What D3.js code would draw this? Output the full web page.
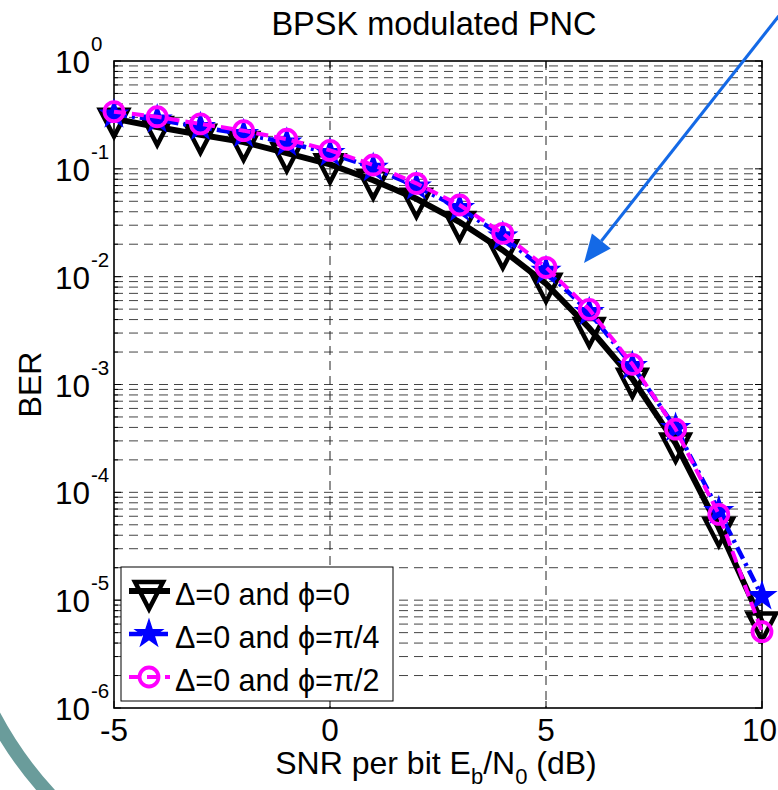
<!DOCTYPE html>
<html>
<head>
<meta charset="utf-8">
<script src="https://cdn.jsdelivr.net/npm/d3@7"></script>
<style>
  body { margin: 0; background: #fff; }
  text { font-family: Arial, "Liberation Sans", Helvetica, sans-serif; fill: #000; }
</style>
</head>
<body>
<svg id="screen"></svg>
<script>
//
// BER curves of BPSK modulated PNC for three phase offsets
//

// ---------------- data ----------------
let snrDb = [-5, -4, -3, -2, -1, 0, 1, 2, 3, 4, 5, 6, 7, 8, 9, 10]
let berPhi0 = [0.292, 0.244, 0.207, 0.177, 0.140, 0.110, 0.0783, 0.0528, 0.0321, 0.0176,
               0.0086, 0.00334, 0.00113, 2.84e-4, 4.7e-5, 6.2e-6]
let berPhiPi4 = [0.319, 0.287, 0.244, 0.210, 0.175, 0.140, 0.102, 0.0686, 0.0433, 0.0236,
                 0.0113, 0.0047, 0.00148, 3.95e-4, 6.7e-5, 1.09e-5]
let berPhiPi2 = [0.339, 0.304, 0.261, 0.226, 0.188, 0.1485, 0.1085, 0.0734, 0.0462, 0.0252,
                 0.0122, 0.00498, 0.00154, 3.85e-4, 6.25e-5, 5.1e-6]
let seriesNames = ["Δ=0 and ϕ=0", "Δ=0 and ϕ=π/4", "Δ=0 and ϕ=π/2"]
let xTicks = [-5, 0, 5, 10]
let xGrid = [0, 5]
let yExponents = [0, -1, -2, -3, -4, -5, -6]
let minorMultipliers = [2, 3, 4, 5, 6, 7, 8, 9]
// annotation arrow points at (snr, ber)
let arrowTip = [5.88, 0.0134]

// ---------------- frame ----------------
let svg = {width: 778, height: 790}
let plot = {left: 114, right: 762, top: 61, bottom: 708}

let frame = d3.select('#screen')
  .attr('width', svg.width)
  .attr('height', svg.height)

let x = d3.scaleLinear().domain([-5, 10]).range([plot.left, plot.right])
let y = d3.scaleLog().domain([1e-6, 1]).range([plot.bottom, plot.top])

// slide decoration: teal arc lower left
frame.append('path')
  .attr('d', 'M -10 708.5 A 375 375 0 0 0 64.8 810')
  .attr('fill', 'none')
  .attr('stroke', '#6a9c9b')
  .attr('stroke-width', 14)

// ---------------- grid ----------------
let grid = frame.append('g').attr('id', 'grid')
let minorValues = []
yExponents.slice(1).forEach(e => minorMultipliers.forEach(m => minorValues.push(m * Math.pow(10, e))))
let majorValues = yExponents.slice(1, -1).map(e => Math.pow(10, e))

grid.selectAll('.hgrid')
  .data(minorValues.concat(majorValues))
  .enter().append('line')
  .attr('x1', plot.left).attr('x2', plot.right)
  .attr('y1', d => y(d)).attr('y2', d => y(d))
  .attr('stroke', '#444').attr('stroke-width', 1)
  .attr('stroke-dasharray', '9,6')

grid.selectAll('.vgrid')
  .data(xGrid)
  .enter().append('line')
  .attr('x1', d => x(d)).attr('x2', d => x(d))
  .attr('y1', plot.top).attr('y2', plot.bottom)
  .attr('stroke', '#222').attr('stroke-width', 1)
  .attr('stroke-dasharray', '9,6')

// ---------------- axes box + ticks ----------------
let axes = frame.append('g').attr('id', 'axes')
axes.append('rect')
  .attr('x', plot.left).attr('y', plot.top)
  .attr('width', plot.right - plot.left).attr('height', plot.bottom - plot.top)
  .attr('fill', 'none').attr('stroke', '#000').attr('stroke-width', 1.6)

let yTickList = yExponents.map(e => ({v: Math.pow(10, e), len: 7}))
  .concat(minorValues.map(v => ({v: v, len: 4})))
yTickList.forEach(t => {
  axes.append('line').attr('x1', plot.left).attr('x2', plot.left + t.len)
    .attr('y1', y(t.v)).attr('y2', y(t.v)).attr('stroke', '#000')
  axes.append('line').attr('x1', plot.right).attr('x2', plot.right - t.len)
    .attr('y1', y(t.v)).attr('y2', y(t.v)).attr('stroke', '#000')
})
xTicks.forEach(t => {
  axes.append('line').attr('x1', x(t)).attr('x2', x(t))
    .attr('y1', plot.bottom).attr('y2', plot.bottom - 7).attr('stroke', '#000')
  axes.append('line').attr('x1', x(t)).attr('x2', x(t))
    .attr('y1', plot.top).attr('y2', plot.top + 7).attr('stroke', '#000')
})

// tick labels 10^e
yExponents.forEach(e => {
  let yy = y(Math.pow(10, e))
  axes.append('text')
    .attr('x', 90).attr('y', yy + 12)
    .attr('text-anchor', 'end')
    .attr('font-size', 31.5)
    .text('10')
  axes.append('text')
    .attr('x', 91).attr('y', yy - 10)
    .attr('font-size', 20.5)
    .text(e == 0 ? '0' : '-' + Math.abs(e))
})
xTicks.forEach((t, i) => {
  // last label sits against the right edge of the page
  let last = i == xTicks.length - 1
  axes.append('text')
    .attr('x', last ? svg.width - 1 : x(t)).attr('y', 741)
    .attr('text-anchor', last ? 'end' : 'middle')
    .attr('font-size', 31.5)
    .text(t)
})

// axis titles
let xlabel = frame.append('text')
  .attr('x', (plot.left + plot.right) / 2 - 2).attr('y', 774)
  .attr('text-anchor', 'middle')
  .attr('font-size', 32)
xlabel.append('tspan').text('SNR per bit E')
xlabel.append('tspan').attr('font-size', 22).attr('dy', 10).text('b')
xlabel.append('tspan').attr('dy', -10).text('/N')
xlabel.append('tspan').attr('font-size', 22).attr('dy', 10).text('0')
xlabel.append('tspan').attr('dy', -10).text(' (dB)')

frame.append('text')
  .attr('transform', 'translate(41,' + (plot.top + plot.bottom) / 2 + ') rotate(-90)')
  .attr('text-anchor', 'middle')
  .attr('font-size', 32)
  .text('BER')

frame.append('text')
  .attr('x', 434).attr('y', 35)
  .attr('text-anchor', 'middle')
  .attr('font-size', 32.5)
  .text('BPSK modulated PNC')

// ---------------- series ----------------
let triPath = 'M -14 -9 L 14 -9 L 0 18 Z'
let starPath = (function () {
  let pts = []
  for (let i = 0; i < 10; i++) {
    let r = i % 2 == 0 ? 14 : 5.4
    let a = -Math.PI / 2 + i * Math.PI / 5
    pts.push([r * Math.cos(a), r * Math.sin(a)])
  }
  return 'M' + pts.map(p => p[0].toFixed(2) + ',' + p[1].toFixed(2)).join('L') + 'Z'
})()

let styles = [
  {ber: berPhi0, color: '#000', width: 6, dash: null},
  {ber: berPhiPi4, color: '#0000ff', width: 4.5, dash: '13,5,3,5'},
  {ber: berPhiPi2, color: '#ff00ff', width: 4, dash: '12,6'}
]

function drawMarker(g, i, cx, cy) {
  let s = styles[i]
  if (i == 0) {
    g.append('path').attr('d', triPath)
      .attr('transform', 'translate(' + cx + ',' + cy + ')')
      .attr('fill', 'none').attr('stroke', s.color).attr('stroke-width', 4.5)
      .attr('stroke-linejoin', 'miter')
  } else if (i == 1) {
    g.append('path').attr('d', starPath)
      .attr('transform', 'translate(' + cx + ',' + cy + ')')
      .attr('fill', s.color).attr('stroke', s.color).attr('stroke-width', 1.5)
  } else {
    g.append('circle').attr('cx', cx).attr('cy', cy).attr('r', 9.5)
      .attr('fill', 'none').attr('stroke', s.color).attr('stroke-width', 3.8)
  }
}

let line = d3.line().x(d => x(d[0])).y(d => y(d[1]))
let seriesG = frame.append('g').attr('id', 'series')
styles.forEach((s, i) => {
  let pts = snrDb.map((v, k) => [v, s.ber[k]])
  let g = seriesG.append('g')
  g.append('path').datum(pts)
    .attr('d', line)
    .attr('fill', 'none')
    .attr('stroke', s.color)
    .attr('stroke-width', s.width)
    .attr('stroke-dasharray', s.dash)
  pts.forEach(p => drawMarker(g, i, x(p[0]), y(p[1])))
})

// ---------------- legend ----------------
let legend = frame.append('g').attr('id', 'legend')
legend.append('rect')
  .attr('x', 121).attr('y', 567).attr('width', 272).attr('height', 134)
  .attr('fill', '#fff').attr('stroke', '#000').attr('stroke-width', 1)
seriesNames.forEach((name, i) => {
  let ly = 591 + i * 43
  let s = styles[i]
  legend.append('line')
    .attr('x1', 129).attr('x2', 170).attr('y1', ly).attr('y2', ly)
    .attr('stroke', s.color).attr('stroke-width', s.width)
    .attr('stroke-dasharray', s.dash)
  drawMarker(legend, i, 149, ly)
  legend.append('text')
    .attr('x', 175).attr('y', ly + 14)
    .attr('font-size', 30.5)
    .text(name)
})

// ---------------- annotation arrow ----------------
let tip = [x(arrowTip[0]), y(arrowTip[1])]
let dir = [-194, 246]
let dl = Math.hypot(dir[0], dir[1])
let u = [dir[0] / dl, dir[1] / dl]
let perp = [u[1], -u[0]]
let base = [tip[0] - 28 * u[0], tip[1] - 28 * u[1]]
let start = [tip[0] - 330 * u[0], tip[1] - 330 * u[1]]
frame.append('line')
  .attr('x1', start[0]).attr('y1', start[1])
  .attr('x2', base[0]).attr('y2', base[1])
  .attr('stroke', '#1469e6').attr('stroke-width', 3)
frame.append('path')
  .attr('d', 'M' + tip.join(',') +
             'L' + (base[0] + 12 * perp[0]) + ',' + (base[1] + 12 * perp[1]) +
             'L' + (base[0] - 12 * perp[0]) + ',' + (base[1] - 12 * perp[1]) + 'Z')
  .attr('fill', '#1469e6')
</script>
</body>
</html>
